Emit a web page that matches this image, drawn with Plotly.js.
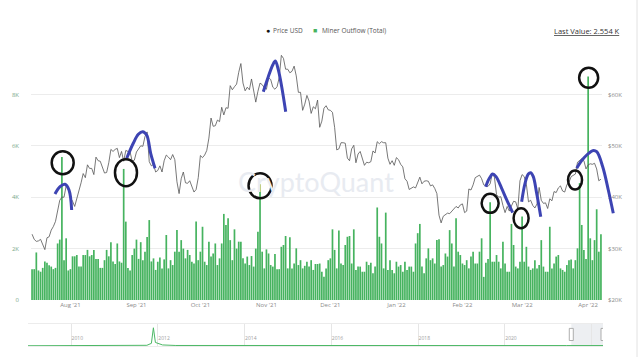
<!DOCTYPE html>
<html><head><meta charset="utf-8">
<script src="https://cdn.plot.ly/plotly-3.0.1.min.js"></script>
<style>html,body{margin:0;padding:0;background:#fff;}#chart{width:640px;height:357px;}</style>
</head><body><div id="chart"></div>
<script>
// ---------- data ----------
const startDate = '2021-07-14';
const outflowK = [
1.2,1.2,1.85,1.15,1.1,1.25,1.5,1.45,1.35,1.3,
1.2,1.25,2.2,2.35,5.56,1.55,2.4,1.15,1.2,1.7,
1.7,1.75,1.3,1.3,1.75,1.75,1.95,1.7,1.75,1.95,
1.6,1.6,1.25,1.25,1.55,1.95,1.7,2.25,1.5,1.4,
2.2,1.5,1.45,5.1,3.05,1.25,1.15,1.75,2.0,2.35,
1.6,2.25,1.55,1.88,2.45,3.11,1.5,1.62,1.17,1.49,
1.65,1.23,1.58,2.53,1.23,1.55,1.36,1.88,2.72,1.88,
2.33,2.0,1.62,1.95,1.75,1.49,1.42,3.05,1.55,1.88,
2.85,1.49,1.36,2.27,1.69,1.81,2.2,1.36,1.62,2.2,
3.35,2.92,3.18,2.33,1.55,2.75,2.0,2.27,2.27,1.62,
1.42,1.69,1.36,1.71,1.3,2.0,2.66,4.5,1.88,1.23,
1.97,1.81,1.36,1.3,1.79,1.2,1.2,2.07,2.14,2.49,
1.23,2.44,1.23,1.42,2.01,1.36,1.55,1.23,1.33,1.49,
1.3,1.55,1.17,1.4,1.4,1.42,1.1,0.9,1.23,1.55,
1.62,2.75,1.95,1.23,2.7,1.42,1.36,2.14,2.46,2.49,
1.42,2.75,1.17,1.3,1.3,1.1,1.1,1.49,1.36,1.45,
1.04,1.3,3.6,2.46,2.2,1.23,3.4,1.17,1.55,1.17,
1.04,1.49,1.3,1.36,1.1,1.49,1.17,1.3,1.3,1.1,
2.2,2.6,2.96,1.3,1.04,1.62,2.01,1.55,1.62,1.42,
2.33,2.36,1.3,1.36,1.81,1.69,2.72,2.2,1.3,3.18,
1.88,1.75,1.42,1.36,1.55,1.23,1.69,1.88,1.42,1.42,
1.88,2.4,0.9,1.45,1.6,3.8,1.49,1.49,1.75,1.49,
1.23,2.27,1.42,1.1,1.1,2.96,2.14,1.3,1.23,1.49,
3.25,1.49,2.07,1.3,1.17,1.23,1.55,1.23,1.36,2.33,
1.3,1.1,1.1,2.85,1.23,1.42,1.69,1.75,1.23,1.17,
1.1,1.36,1.55,1.58,1.23,1.55,2.01,4.55,2.92,1.95,
1.6,8.7,2.4,1.55,2.33,3.53,1.88,2.554
];
const priceK = [
32.8,31.8,31.4,31.5,31.8,30.8,29.8,32.1,32.3,33.6,
34.3,35.3,37.3,39.4,40.0,40.0,42.2,41.6,39.9,39.2,
38.2,39.7,40.9,42.8,44.6,43.8,46.3,45.6,45.6,44.4,
47.8,47.1,47.0,45.9,44.7,44.8,46.7,49.3,48.9,49.3,
49.5,47.7,48.9,47.0,49.1,48.9,48.8,47.0,47.2,48.8,
49.3,50.0,49.9,51.8,52.7,46.9,46.1,46.4,44.9,45.2,
46.1,44.9,47.1,48.2,47.8,47.3,48.3,47.3,43.0,40.7,
43.6,44.9,42.8,42.7,43.2,42.2,41.0,41.5,43.8,48.1,
47.7,48.2,49.1,51.5,55.4,53.8,53.9,55.0,54.7,57.5,
56.0,57.4,57.3,61.7,60.9,61.5,62.0,64.3,66.0,62.2,
60.7,61.4,60.9,63.0,60.4,58.5,60.6,62.2,61.9,61.3,
61.0,63.2,62.9,61.4,61.0,61.5,63.3,67.6,67.0,64.9,
64.9,64.2,64.5,65.5,63.6,60.4,60.4,56.9,58.1,59.8,
58.7,56.3,57.6,57.2,58.9,53.6,54.8,57.3,57.8,57.0,
56.9,56.5,53.6,49.2,49.4,50.6,50.6,50.5,47.6,47.1,
49.4,50.1,46.7,48.4,48.9,47.6,46.2,46.8,46.7,46.9,
49.0,48.6,50.8,50.4,50.8,50.6,50.6,47.6,46.4,47.1,
46.2,47.7,47.3,46.4,45.9,43.6,43.1,41.5,41.7,42.0,
41.8,42.7,43.9,42.6,43.1,43.2,43.1,42.2,42.4,41.7,
40.7,36.5,35.0,36.3,36.7,36.9,36.8,37.2,37.7,38.2,
37.9,38.5,38.7,37.0,37.3,41.6,41.4,42.4,43.8,44.1,
44.3,43.6,42.4,42.2,42.1,42.6,44.6,43.9,40.5,40.0,
40.1,38.4,37.0,38.2,37.3,38.3,39.2,39.1,37.7,43.2,
44.4,44.0,42.5,39.1,39.4,38.4,37.9,38.7,41.9,39.4,
38.8,38.9,37.8,39.7,39.3,41.1,40.9,41.8,42.2,41.2,
41.0,42.4,42.9,44.0,44.3,44.5,46.8,47.1,47.5,47.1,
45.5,46.3,46.5,46.4,46.6,45.5,43.2,43.5
];
const monthTicks = ['2021-08-01','2021-09-01','2021-10-01','2021-11-01','2021-12-01','2022-01-01','2022-02-01','2022-03-01','2022-04-01'];
const leftTickVals = [0,2,4,6,8,10];
const leftTickText = ['0','2K','4K','6K','8K',''];
const rightTickVals = [20,30,40,50,60,70];
const rightTickText = ['$20K','$30K','$40K','$50K','$60K',''];
const navYears = ['2010-01-01','2012-01-01','2014-01-01','2016-01-01','2018-01-01','2020-01-01','2022-01-01'];
const navYearText = ['2010','2012','2014','2016','2018','2020','2022'];
const navDates = ['2009-01-03','2010-01-01','2011-01-01','2011-10-01','2011-11-08','2011-11-25','2011-12-12','2012-01-10','2012-02-10','2012-06-01','2013-06-01','2014-06-01','2015-06-01','2016-06-01','2017-06-01','2018-06-01','2019-06-01','2020-06-01','2021-06-01','2022-04-07'];
const navValues = [0.3,0.3,0.4,0.8,3,20.7,4,3,1.2,0.6,0.5,0.7,0.7,0.5,0.4,0.4,0.4,0.4,0.5,0.5];
const circledBars = [14,43,107,215,230,257,261];
const arcDates = [
 ['2021-07-24 18:00','2021-07-27 03:00','2021-07-29 11:00','2021-07-31 08:00','2021-08-01 14:00'],
 ['2021-08-27 10:00','2021-08-30 12:00','2021-09-01 21:00','2021-09-03 22:00','2021-09-05 19:00','2021-09-07 16:00','2021-09-09 17:00'],
 ['2021-10-30 13:00','2021-11-01 21:00','2021-11-03 23:00','2021-11-05 04:00','2021-11-06 14:00','2021-11-08 04:00','2021-11-10 01:00'],
 ['2022-02-11 22:00','2022-02-13 15:00','2022-02-15 05:00','2022-02-16 18:00','2022-02-19 10:00','2022-02-21 19:00','2022-02-24 14:00'],
 ['2022-02-28 19:00','2022-03-02 09:00','2022-03-03 22:00','2022-03-05 01:00','2022-03-06 06:00','2022-03-07 20:00','2022-03-09 18:00'],
 ['2022-03-26 15:00','2022-03-28 23:00','2022-03-31 08:00','2022-04-03 03:00','2022-04-05 00:00','2022-04-07 20:00','2022-04-10 11:00','2022-04-12 19:00']
];
const arcPrices = [
 [40.62,42.04,42.51,41.40,37.51],
 [47.57,50.49,52.24,52.75,52.10,48.54,45.62],
 [60.53,63.45,65.72,66.50,64.75,61.50,56.63],
 [42.04,43.68,44.51,43.99,41.73,39.46,36.98],
 [39.12,42.70,44.51,44.77,43.99,40.76,36.21],
 [45.62,47.10,48.21,49.05,48.85,45.93,41.40,36.87]
];

// ---------- build ----------
function addDays(s, n){const d=new Date(s+'T00:00:00Z');d.setUTCDate(d.getUTCDate()+n);return d.toISOString().slice(0,10);}
const dates = outflowK.map((_,i)=>addDays(startDate,i));

const GREEN = '#46b35f';
const FONT = 'Open Sans, Roboto, sans-serif';
const W = 640, H = 357, ML = 28, MR = 20, MT = 40, MB = 10;
const PW = W-ML-MR, PH = H-MT-MB;
const px = v => (v-ML)/PW;
const py = v => (H-MB-v)/PH;

const xStart = '2021-07-13 12:00', xEnd = '2022-04-07 12:00';
const xDom = [px(31), px(602)];
const yDom = [py(300), py(43)];
const t0 = new Date(xStart.replace(' ','T')+':00Z').getTime();
const t1 = new Date(xEnd.replace(' ','T')+':00Z').getTime();
const x4End = new Date(t0 + (t1-t0)*(620-31)/(602-31)).toISOString();

const traces = [
 {type:'bar', x:dates, y:outflowK, xaxis:'x', yaxis:'y', marker:{color:GREEN,line:{width:0}}, name:'Miner Outflow (Total)', hoverinfo:'skip'},
 {type:'scatter', mode:'lines', x:dates, y:priceK, xaxis:'x', yaxis:'y2', line:{color:'#555555', width:0.8}, name:'Price USD', hoverinfo:'skip'},
 {type:'scatter', mode:'lines', x:navDates, y:navValues, xaxis:'x3', yaxis:'y3', line:{color:'#4cb865', width:1}, hoverinfo:'skip'}
];
arcDates.forEach((ad,i)=>{
 traces.push({type:'scatter', mode:'lines', x:ad, y:arcPrices[i], xaxis:'x4', yaxis:'y4',
  line:{color:'#3d44b3', width:3, shape:'spline', smoothing:1}, hoverinfo:'skip'});
});

const circleStyle = [
 {dx:0.8,dy:5.6,w:22,h:23},{dx:2.3,dy:3.7,w:22,h:27},{dx:0,dy:1.4,w:23,h:25},
 {dx:0,dy:1,w:17,h:19},{dx:-1,dy:1.8,w:15,h:20},{dx:-4.6,dy:-3.1,w:14,h:19},{dx:0.5,dy:1.3,w:19,h:20}
];
const shapes = circledBars.map((idx,i)=>{
 const s = circleStyle[i];
 return {type:'circle', xref:'x', yref:'y', xsizemode:'pixel', ysizemode:'pixel',
  xanchor:dates[idx], yanchor:outflowK[idx],
  x0:s.dx-s.w/2, x1:s.dx+s.w/2, y0:-s.dy-s.h/2, y1:-s.dy+s.h/2,
  line:{color:'#111', width:2.5}, fillcolor:'rgba(0,0,0,0)', layer:'above'};
});
// navigator selection
shapes.push({type:'rect', xref:'x3', yref:'y3 domain', x0:dates[0], x1:dates[dates.length-1], y0:0, y1:1,
 fillcolor:'rgba(210,214,222,0.4)', line:{width:0}, layer:'below'});
[dates[0], dates[dates.length-1]].forEach(d=>{
 shapes.push({type:'rect', xref:'x3', yref:'y3 domain', xsizemode:'pixel', xanchor:d, x0:-2, x1:2, y0:0.25, y1:0.8,
  fillcolor:'#ffffff', line:{color:'#9a9a9a', width:0.8}, layer:'above'});
});
// right border line
shapes.push({type:'line', xref:'paper', yref:'paper', x0:px(637), x1:px(637), y0:py(357), y1:py(0), line:{color:'#e2e2e2', width:1}});

const annotations = [
 {text:'●', x:px(267.5), y:py(31), xref:'paper', yref:'paper', xanchor:'center', yanchor:'middle', showarrow:false, font:{size:7,color:'#111',family:FONT}},
 {text:'Price USD', x:px(271), y:py(31), xref:'paper', yref:'paper', xanchor:'left', yanchor:'middle', showarrow:false, font:{size:6.5,color:'#555',family:FONT}},
 {text:'■', x:px(315), y:py(31), xref:'paper', yref:'paper', xanchor:'center', yanchor:'middle', showarrow:false, font:{size:7,color:GREEN,family:FONT}},
 {text:'Miner Outflow (Total)', x:px(320), y:py(31), xref:'paper', yref:'paper', xanchor:'left', yanchor:'middle', showarrow:false, font:{size:6.5,color:'#555',family:FONT}},
 {text:'<u>Last Value: 2.554 K</u>', x:px(622), y:py(31), xref:'paper', yref:'paper', xanchor:'right', yanchor:'middle', showarrow:false, font:{size:7.5,color:'#333',family:FONT}},
 {text:'CryptoQuant', x:px(316), y:py(181), xref:'paper', yref:'paper', xanchor:'center', yanchor:'middle', showarrow:false, font:{size:27,color:'#e8ebf1',family:'Lato, '+FONT}}
];

const layout = {
 width:W, height:H, margin:{l:ML, r:MR, t:MT, b:MB},
 paper_bgcolor:'#ffffff', plot_bgcolor:'rgba(0,0,0,0)',
 showlegend:false, hovermode:false, bargap:0.2,
 font:{family:FONT},
 xaxis:{type:'date', domain:xDom, anchor:'y', range:[xStart,xEnd], tickvals:monthTicks, tickformat:"%b '%y",
  tickfont:{size:6,color:'#8a8a8a'}, showgrid:false, zeroline:false, showline:false, ticks:''},
 yaxis:{domain:yDom, anchor:'x', range:[0,10], tickvals:leftTickVals, ticktext:leftTickText, gridcolor:'#ececec',
  tickfont:{size:6,color:'#7aa889'}, zeroline:false, ticks:'', ticklabelstandoff:11},
 yaxis2:{overlaying:'y', side:'right', anchor:'x', range:[20,70], tickvals:rightTickVals, ticktext:rightTickText,
  showgrid:false, zeroline:false, tickfont:{size:6,color:'#8a8a8a'}, ticks:'', ticklabelstandoff:5},
 xaxis3:{type:'date', domain:[0, px(603)], anchor:'y3', range:['2009-01-03','2022-04-07'], tickvals:navYears, ticktext:navYearText,
  ticklabelposition:'inside right', showgrid:true, gridcolor:'#e6e6e6', tickfont:{size:5,color:'#a0a0a0'}, ticks:'',
  showline:true, mirror:true, linecolor:'#ececec', zeroline:false},
 yaxis3:{domain:[py(346), py(324)], anchor:'x3', range:[0,25], showgrid:false, showticklabels:false, zeroline:false, ticks:''},
 xaxis4:{type:'date', domain:[px(31), 1], anchor:'y4', range:[xStart, x4End], visible:false},
 yaxis4:{domain:yDom, anchor:'x4', range:[20,70], visible:false},
 shapes:shapes, annotations:annotations
};
Plotly.newPlot('chart', traces, layout, {displayModeBar:false, staticPlot:true});
</script></body></html>
